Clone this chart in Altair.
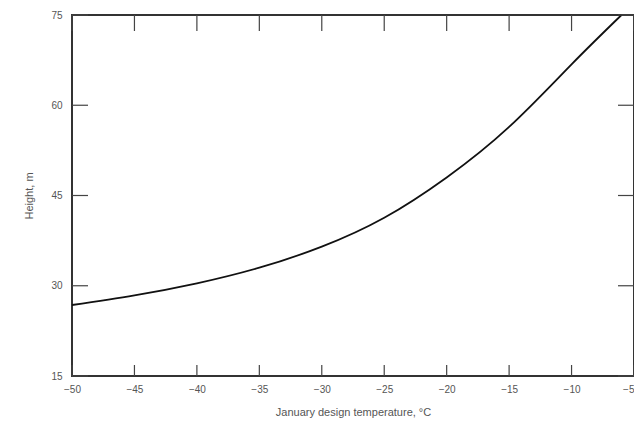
import altair as alt
import pandas as pd

# Data
temps = [-50, -45, -40, -35, -30, -25, -20, -15, -10, -6]
heights = [26.8, 28.4, 30.4, 33.0, 36.5, 41.3, 48.0, 56.4, 66.8, 75.0]

x_ticks = [-50, -45, -40, -35, -30, -25, -20, -15, -10, -5]
y_ticks = [15, 30, 45, 60, 75]

W, H = 562, 361
TICK = 16

df = pd.DataFrame({"temp": temps, "height": heights})
xt = pd.DataFrame({"temp": x_ticks})
yt = pd.DataFrame({"height": y_ticks})

xscale = alt.Scale(domain=[-50, -5], nice=False, zero=False)
yscale = alt.Scale(domain=[15, 75], nice=False, zero=False)

xaxis = alt.Axis(values=x_ticks, title="January design temperature, °C",
                 domain=False, ticks=False, grid=False, labelPadding=8,
                 titlePadding=12, labelFlush=False,
                 labelAlign={"condition": {"test": "datum.value == -5", "value": "right"},
                             "value": "center"})
yaxis = alt.Axis(values=y_ticks, title="Height, m",
                 domain=False, ticks=False, grid=False, labelPadding=10,
                 titlePadding=16, labelFlush=False)

X = alt.X("temp:Q", scale=xscale, axis=xaxis)
Y = alt.Y("height:Q", scale=yscale, axis=yaxis)

line = alt.Chart(df).mark_line(color="#111111", strokeWidth=1.8, interpolate="natural").encode(
    x=X, y=Y)

tick_style = dict(color="#444444", strokeWidth=1.2)

top_ticks = alt.Chart(xt).mark_rule(**tick_style).encode(
    x=X, y=alt.value(0), y2=alt.value(TICK))
bottom_ticks = alt.Chart(xt).mark_rule(**tick_style).encode(
    x=X, y=alt.value(H - TICK + 5), y2=alt.value(H))
left_ticks = alt.Chart(yt).mark_rule(**tick_style).encode(
    y=Y, x=alt.value(0), x2=alt.value(TICK))
right_ticks = alt.Chart(yt).mark_rule(**tick_style).encode(
    y=Y, x=alt.value(W - TICK), x2=alt.value(W))

chart = alt.layer(line, top_ticks, bottom_ticks, left_ticks, right_ticks).properties(
    width=W, height=H, background="white",
    autosize=alt.AutoSizeParams(type="none"),
    padding={"left": 64, "top": 7, "right": 0, "bottom": 52}
).configure_view(
    stroke="#333333", strokeWidth=2
).configure_axis(
    labelFont="Liberation Sans", titleFont="Liberation Sans",
    labelFontSize=10, titleFontSize=11, labelColor="#555555", titleColor="#555555",
    titleFontWeight="normal"
)

chart.save("out.html", embed_options={"renderer": "svg", "actions": False})
